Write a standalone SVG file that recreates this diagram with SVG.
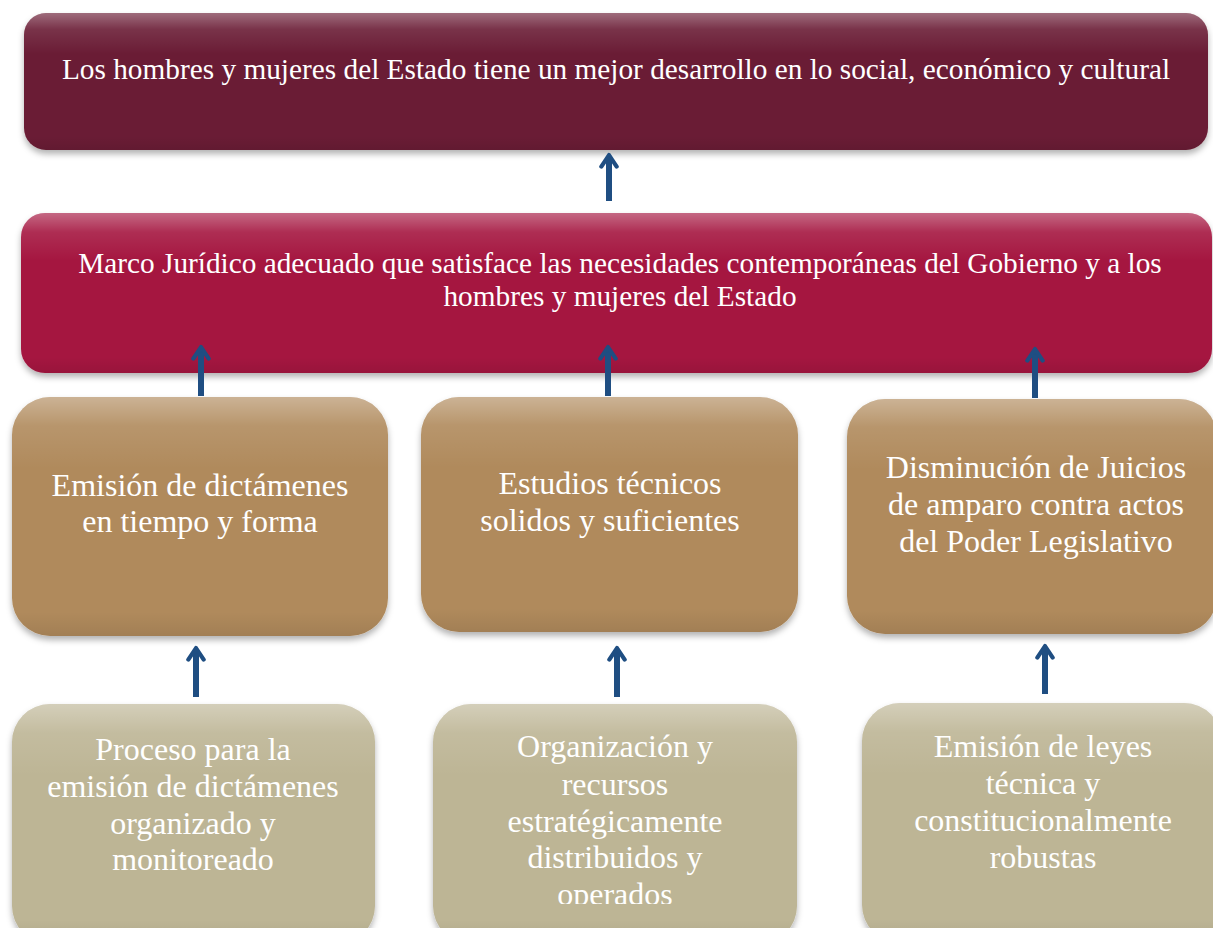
<svg xmlns="http://www.w3.org/2000/svg" width="1213" height="928" viewBox="0 0 1213 928">
<style>
text{font-family:"Liberation Serif","Times New Roman",serif;fill:#ffffff;text-anchor:middle}
.t1{font-size:29.3px}
.t3{font-size:32px}
.conn{stroke:#1f4e82;stroke-width:6;fill:none;marker-end:url(#ah)}
</style>
<defs>
<filter id="sh" x="-5%" y="-10%" width="110%" height="125%">
<feDropShadow dx="0" dy="4" stdDeviation="3" flood-color="#000" flood-opacity="0.3"/>
</filter>
<linearGradient id="gl" x1="0" y1="0" x2="0" y2="1">
<stop offset="0" stop-color="#fff" stop-opacity="0.35"/>
<stop offset="0.12" stop-color="#fff" stop-opacity="0.1"/>
<stop offset="0.3" stop-color="#fff" stop-opacity="0"/>
<stop offset="0.9" stop-color="#000" stop-opacity="0"/>
<stop offset="1" stop-color="#000" stop-opacity="0.08"/>
</linearGradient>
<marker id="ah" viewBox="0 0 10 10" refX="6" refY="5" markerWidth="3.2" markerHeight="3.2" orient="auto" markerUnits="strokeWidth">
<path d="M1,1 L7,5 L1,9" fill="none" stroke="#1f4e82" stroke-width="2.2" stroke-linecap="round" stroke-linejoin="round"/>
</marker>
<clipPath id="clipE"><rect x="433" y="700" width="370" height="204"/></clipPath>
</defs>

<g id="n1">
<rect x="24" y="13" width="1184" height="137" rx="22" fill="#6a1d34" filter="url(#sh)"/>
<rect x="24" y="13" width="1184" height="137" rx="22" fill="url(#gl)"/>
<text class="t1" x="616" y="79">Los hombres y mujeres del Estado tiene un mejor desarrollo en lo social, económico y cultural</text>
</g>

<g id="n2">
<rect x="21" y="213" width="1191" height="160" rx="24" fill="#a51641" filter="url(#sh)"/>
<rect x="21" y="213" width="1191" height="160" rx="24" fill="url(#gl)"/>
<text class="t1" x="620" y="273">Marco Jurídico adecuado que satisface las necesidades contemporáneas del Gobierno y a los</text>
<text class="t1" x="620" y="306">hombres y mujeres del Estado</text>
</g>

<g id="n3a">
<rect x="12" y="397" width="376" height="239" rx="38" fill="#b08a5c" filter="url(#sh)"/>
<rect x="12" y="397" width="376" height="239" rx="38" fill="url(#gl)"/>
<text class="t3" x="200" y="496">Emisión de dictámenes</text>
<text class="t3" x="200" y="532">en tiempo y forma</text>
</g>

<g id="n3b">
<rect x="421" y="397" width="377" height="235" rx="38" fill="#b08a5c" filter="url(#sh)"/>
<rect x="421" y="397" width="377" height="235" rx="38" fill="url(#gl)"/>
<text class="t3" x="610" y="494">Estudios técnicos</text>
<text class="t3" x="610" y="531">solidos y suficientes</text>
</g>

<g id="n3c">
<rect x="847" y="399" width="370" height="235" rx="38" fill="#b08a5c" filter="url(#sh)"/>
<rect x="847" y="399" width="370" height="235" rx="38" fill="url(#gl)"/>
<text class="t3" x="1036" y="478">Disminución de Juicios</text>
<text class="t3" x="1036" y="515">de amparo contra actos</text>
<text class="t3" x="1036" y="552">del Poder Legislativo</text>
</g>

<g id="n4a">
<rect x="12" y="704" width="363" height="240" rx="38" fill="#bdb595" filter="url(#sh)"/>
<rect x="12" y="704" width="363" height="240" rx="38" fill="url(#gl)"/>
<text class="t3" x="193" y="760">Proceso para la</text>
<text class="t3" x="193" y="797">emisión de dictámenes</text>
<text class="t3" x="193" y="834">organizado y</text>
<text class="t3" x="193" y="870">monitoreado</text>
</g>

<g id="n4b">
<rect x="433" y="704" width="364" height="240" rx="38" fill="#bdb595" filter="url(#sh)"/>
<rect x="433" y="704" width="364" height="240" rx="38" fill="url(#gl)"/>
<text class="t3" x="615" y="757">Organización y</text>
<text class="t3" x="615" y="795">recursos</text>
<text class="t3" x="615" y="832">estratégicamente</text>
<text class="t3" x="615" y="868">distribuidos y</text>
<text class="t3" x="615" y="905" clip-path="url(#clipE)">operados</text>
</g>

<g id="n4c">
<rect x="862" y="703" width="360" height="240" rx="38" fill="#bdb595" filter="url(#sh)"/>
<rect x="862" y="703" width="360" height="240" rx="38" fill="url(#gl)"/>
<text class="t3" x="1043" y="757">Emisión de leyes</text>
<text class="t3" x="1043" y="794">técnica y</text>
<text class="t3" x="1043" y="831">constitucionalmente</text>
<text class="t3" x="1043" y="868">robustas</text>
</g>

<g id="connectors">
<line class="conn" x1="609" y1="201" x2="609" y2="157"/>
<line class="conn" x1="201" y1="396" x2="201" y2="349"/>
<line class="conn" x1="608" y1="396" x2="608" y2="349"/>
<line class="conn" x1="1035" y1="398" x2="1035" y2="351"/>
<line class="conn" x1="196" y1="697" x2="196" y2="650"/>
<line class="conn" x1="617" y1="697" x2="617" y2="650"/>
<line class="conn" x1="1045" y1="694" x2="1045" y2="648"/>
</g>
</svg>
